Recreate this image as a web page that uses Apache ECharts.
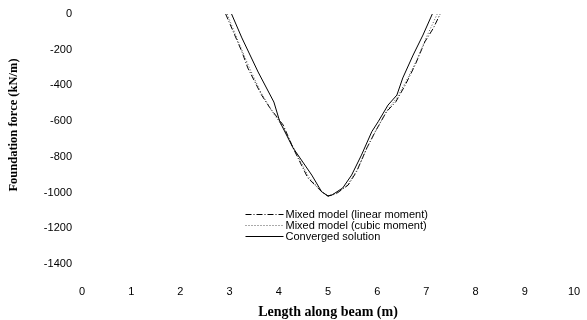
<!DOCTYPE html>
<html>
<head>
<meta charset="utf-8">
<script src="https://cdn.jsdelivr.net/npm/echarts@6/dist/echarts.min.js"></script>
<style>
    html, body { margin: 0; padding: 0; background: #fff; }
    #chart { width: 587px; height: 320px; }
</style>
</head>
<body>
<div id="chart"></div>
<script>
// values
const linearX = [2.92, 3.25, 3.37, 3.65, 3.82, 4.09, 4.29, 4.59, 4.87, 5.0, 5.2, 5.41, 5.58, 5.79, 5.96, 6.19, 6.38, 6.57, 6.77, 6.97, 7.14, 7.28];
const linearY = [0, -211, -302, -454, -526, -622, -750, -918, -995, -1020, -1000, -958, -883, -750, -659, -547, -491, -398, -286, -155, -80, 0];

const cubicX = [2.95, 3.2, 3.4, 3.62, 3.85, 4.1, 4.32, 4.6, 4.85, 5.0, 5.18, 5.4, 5.6, 5.8, 6.0, 6.2, 6.4, 6.6, 6.8, 7.0, 7.22];
const cubicY = [0, -170, -300, -430, -540, -640, -760, -910, -990, -1022, -1005, -955, -870, -745, -640, -540, -470, -370, -260, -130, 0];

const convX = [3.04, 3.25, 3.58, 3.9, 4.02, 4.29, 4.67, 4.87, 5.0, 5.08, 5.3, 5.48, 5.68, 5.89, 6.02, 6.22, 6.4, 6.52, 6.73, 6.93, 7.12];
const convY = [0, -134, -325, -493, -603, -750, -902, -995, -1019, -1014, -974, -902, -790, -659, -603, -510, -454, -358, -230, -118, 0];

const seriesNames = ['Mixed model (linear moment)', 'Mixed model (cubic moment)', 'Converged solution'];

const pairs = (xs, ys) => xs.map((x, i) => [x, ys[i]]);

const myEcharts = echarts.init(document.getElementById('chart'));
const labelFont = { color: '#000', fontSize: 11, fontFamily: 'Liberation Sans' };

const option = {
    animation: false,
    backgroundColor: '#fff',
    grid: {
        left: 82,
        right: 13,
        top: 14,
        bottom: 56,
        outerBoundsMode: 'none'
    },
    legend: {
        orient: 'vertical',
        left: 240,
        top: 204,
        itemWidth: 38,
        itemHeight: 8,
        itemGap: 0,
        // hide the marker dot, keep the line sample
        itemStyle: { opacity: 0 },
        lineStyle: { width: 1 },
        data: seriesNames,
        textStyle: { color: '#000', fontSize: 11, lineHeight: 11, fontFamily: 'Liberation Sans', padding: [0, 0, 0, -3] }
    },
    xAxis: {
        type: 'value',
        min: 0,
        max: 10,
        interval: 1,
        name: 'Length along beam (m)',
        nameLocation: 'middle',
        nameGap: 41,
        nameTextStyle: { color: '#000', fontSize: 14, fontWeight: 'bold', fontFamily: 'Liberation Serif' },
        axisLine: { show: false },
        axisTick: { show: false },
        splitLine: { show: false },
        axisLabel: Object.assign({ margin: 22 }, labelFont)
    },
    yAxis: {
        type: 'value',
        min: -1400,
        max: 0,
        interval: 200,
        name: 'Foundation force (kN/m)',
        nameLocation: 'middle',
        nameGap: 62,
        nameTextStyle: {
            color: '#000',
            fontSize: 12.5,
            fontWeight: 'bold',
            fontFamily: 'Liberation Serif',
            padding: [0, 0, 0, 28]
        },
        axisLine: { show: false },
        axisTick: { show: false },
        splitLine: { show: false },
        axisLabel: Object.assign({ margin: 10, formatter: v => String(v) }, labelFont)
    },
    series: [{
        name: seriesNames[0],
        type: 'line',
        symbol: 'none',
        data: pairs(linearX, linearY),
        lineStyle: { color: '#000', width: 1, type: [6, 2, 1, 2] },
        itemStyle: { color: '#000' }
    }, {
        name: seriesNames[1],
        type: 'line',
        symbol: 'none',
        data: pairs(cubicX, cubicY),
        lineStyle: { color: '#555', width: 1, type: [1, 2] },
        itemStyle: { color: '#555' }
    }, {
        name: seriesNames[2],
        type: 'line',
        symbol: 'none',
        data: pairs(convX, convY),
        lineStyle: { color: '#000', width: 1 },
        itemStyle: { color: '#000' }
    }]
};

myEcharts.setOption(option);
</script>
</body>
</html>
